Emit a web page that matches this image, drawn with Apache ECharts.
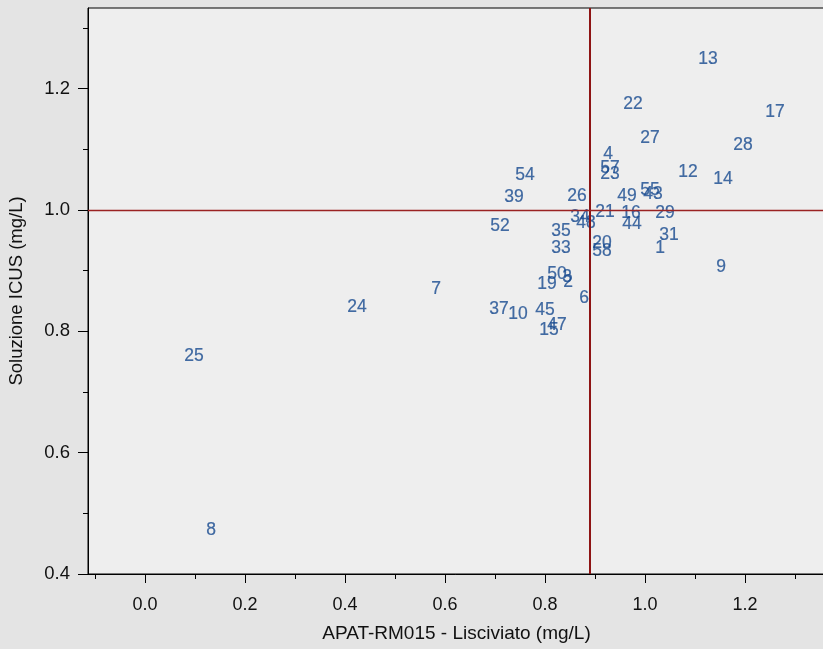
<!DOCTYPE html>
<html>
<head>
<meta charset="utf-8">
<script src="https://cdn.jsdelivr.net/npm/echarts@6/dist/echarts.min.js"></script>
<style>
html,body{margin:0;padding:0;background:#e4e4e4;}
#c{width:823px;height:649px;}
</style>
</head>
<body>
<div id="c"></div>
<script>
// Point labels (sample IDs)
const labels = ['13','22','17','27','28','4','57','23','12','14','54','39','26','49','55','43','21','16','29','34','48','52','35','44','31','33','20','58','1','9','50','3','19','2','6','7','24','37','10','45','47','15','25','8'];
// X: APAT-RM015 - Lisciviato (mg/L)
const xVals = [1.126,0.976,1.260,1.010,1.196,0.926,0.930,0.930,1.086,1.156,0.760,0.738,0.864,0.964,1.010,1.016,0.920,0.972,1.040,0.870,0.882,0.710,0.832,0.974,1.048,0.832,0.914,0.914,1.030,1.152,0.824,0.844,0.804,0.846,0.878,0.582,0.424,0.708,0.746,0.800,0.824,0.808,0.098,0.132];
// Y: Soluzione ICUS (mg/L)
const yVals = [1.249,1.175,1.162,1.119,1.107,1.092,1.069,1.059,1.063,1.051,1.058,1.021,1.023,1.023,1.033,1.026,0.997,0.995,0.995,0.988,0.979,0.974,0.965,0.977,0.959,0.937,0.946,0.932,0.937,0.906,0.894,0.890,0.878,0.881,0.855,0.870,0.840,0.837,0.829,0.835,0.810,0.802,0.759,0.473];
// Reference lines
const xRef = 0.89;
const yRef = 1.0;
// Tick values
const xMajor = [0.0,0.2,0.4,0.6,0.8,1.0,1.2];
const xMinor = [-0.1,0.1,0.3,0.5,0.7,0.9,1.1,1.3];
const yMajor = [0.4,0.6,0.8,1.0,1.2];
const yMinor = [0.5,0.7,0.9,1.1,1.3];

const XMIN = -0.114, XMAX = 1.360, YMIN = 0.4, YMAX = 1.333;
const FONT = '"Liberation Sans", Arial, sans-serif';

const data = xVals.map((x,i)=>[x, yVals[i], labels[i]]);

const chart = echarts.init(document.getElementById('c'), null, {renderer:'canvas'});
chart.setOption({
  backgroundColor: '#e4e4e4',
  animation: false,
  grid: {left: 88, top: 8, right: -2, bottom: 75, outerBoundsMode: 'none', containLabel: false,
         show: true, backgroundColor: '#eeeeee', borderColor: '#000', borderWidth: 1},
  xAxis: [
    {type:'value', min:XMIN, max:XMAX, position:'bottom',
     name:'APAT-RM015 - Lisciviato (mg/L)', nameLocation:'middle', nameGap:50,
     nameTextStyle:{fontFamily:FONT, fontSize:19, color:'#111'},
     axisLine:{show:true, onZero:false, lineStyle:{color:'#000', width:1}},
     axisTick:{show:true, length:9, customValues:xMajor, lineStyle:{color:'#000'}},
     axisLabel:{show:true, customValues:xMajor, margin:22, fontFamily:FONT, fontSize:18, color:'#111', formatter:v=>v.toFixed(1)},
     splitLine:{show:false}},
    {type:'value', min:XMIN, max:XMAX, position:'bottom',
     axisLine:{show:false, onZero:false},
     axisTick:{show:true, length:5, customValues:xMinor, lineStyle:{color:'#000'}},
     axisLabel:{show:false}, splitLine:{show:false}}
  ],
  yAxis: [
    {type:'value', min:YMIN, max:YMAX, position:'left',
     name:'Soluzione ICUS (mg/L)', nameLocation:'middle', nameGap:62,
     nameTextStyle:{fontFamily:FONT, fontSize:18.5, color:'#111'},
     axisLine:{show:true, onZero:false, lineStyle:{color:'#000', width:1}},
     axisTick:{show:true, length:10, customValues:yMajor, lineStyle:{color:'#000'}},
     axisLabel:{show:true, customValues:yMajor, margin:18, fontFamily:FONT, fontSize:18.5, color:'#111', formatter:v=>v.toFixed(1)},
     splitLine:{show:false}},
    {type:'value', min:YMIN, max:YMAX, position:'left',
     axisLine:{show:false, onZero:false},
     axisTick:{show:true, length:5, customValues:yMinor, lineStyle:{color:'#000'}},
     axisLabel:{show:false}, splitLine:{show:false}}
  ],
  series: [{
    type:'scatter', xAxisIndex:0, yAxisIndex:0,
    symbolSize: 0,
    data: data,
    label:{show:true, position:'inside', formatter:p=>p.data[2], fontFamily:FONT, fontSize:17.5, color:'#15498f', textBorderWidth:0.2, textBorderColor:'#15498f'},
    markLine:{
      silent:true, symbol:['none','none'], label:{show:false},
      data:[
        {xAxis:xRef, lineStyle:{color:'#8e1414', width:2, type:'solid'}},
        {yAxis:yRef, lineStyle:{color:'#9a2222', width:1.3, type:'solid'}}
      ]
    }
  }]
});
</script>
</body>
</html>
